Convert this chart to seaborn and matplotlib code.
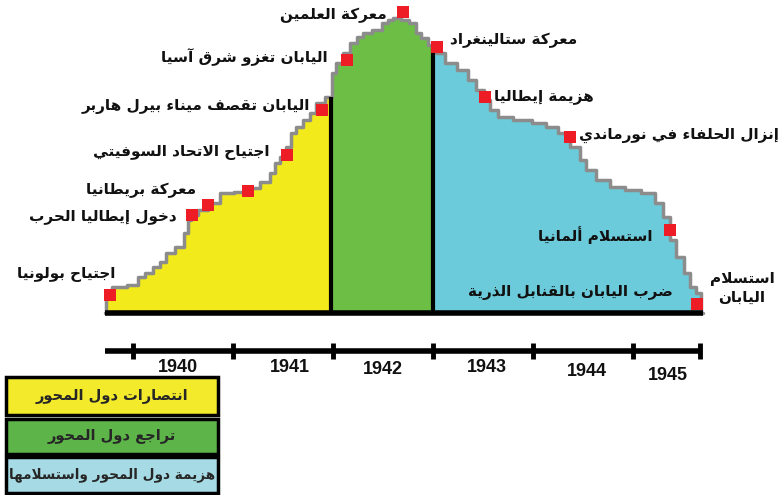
import numpy as np
import pandas as pd
import matplotlib.pyplot as plt
import seaborn as sns
from matplotlib.patches import Rectangle

# --- data: axis strength index over time (year as decimal) ---
years = [1939.72, 1939.74, 1939.84, 1940.04, 1940.07, 1940.17, 1940.24, 1940.30, 1940.37,
         1940.47, 1940.54, 1940.57, 1940.60, 1940.70, 1940.80, 1940.94, 1941.07, 1941.20,
         1941.34, 1941.40, 1941.44, 1941.50, 1941.57, 1941.60, 1941.67, 1941.74, 1941.80,
         1941.87, 1941.98, 1941.99, 1942.00, 1942.07, 1942.14, 1942.20, 1942.27, 1942.34,
         1942.44, 1942.54, 1942.57, 1942.64, 1942.72, 1942.79, 1942.87, 1942.90, 1943.00,
         1943.07, 1943.17, 1943.30, 1943.40, 1943.47, 1943.54, 1943.60, 1943.70, 1943.90,
         1944.07, 1944.20, 1944.30, 1944.44, 1944.50, 1944.57, 1944.70, 1944.84, 1945.00,
         1945.17, 1945.27, 1945.34, 1945.40, 1945.47, 1945.54, 1945.60, 1945.67, 1945.70]
strength = [0, 15, 26, 28, 36, 40, 46, 51, 60,
            66, 80, 93, 98, 103, 110, 120, 121, 125,
            131, 140, 150, 156, 166, 180, 186, 193, 200,
            210, 216, 226, 240, 250, 260, 270, 276, 280,
            283, 290, 293, 295, 293, 290, 280, 275, 268,
            260, 250, 243, 233, 223, 213, 203, 196, 193,
            190, 186, 180, 166, 153, 143, 133, 126, 123,
            120, 110, 96, 73, 56, 40, 26, 20, 0]

phase_bounds = [1939.72, 1941.98, 1943.00, 1945.70]
phase_colors = ["#F2EA1A", "#6CBE45", "#6BCBDA"]
phase_names = ["انتصارات دول المحور", "تراجع دول المحور", "هزيمة دول المحور واستسلامها"]
legend_colors = ["#F2EA2A", "#5DB54A", "#A6DAE4"]

event_x = [1939.77, 1940.59, 1940.75, 1941.15, 1941.54, 1941.89, 1942.14, 1942.70,
           1943.04, 1943.52, 1944.37, 1945.37, 1945.64]
event_y = [18, 98, 108, 122, 158, 203, 253, 301, 266, 216, 176, 83, 9]

events = ["اجتياح بولونيا", "دخول إيطاليا الحرب", "معركة بريطانيا", "اجتياح الاتحاد السوفيتي",
          "اليابان تقصف ميناء بيرل هاربر", "اليابان تغزو شرق آسيا", "معركة العلمين",
          "معركة ستالينغراد", "هزيمة إيطاليا", "إنزال الحلفاء في نورماندي",
          "استسلام ألمانيا", "ضرب اليابان بالقنابل الذرية", "استسلام\nاليابان"]
# label anchor (x, y, ha)
event_label_pos = [(1939.82, 38, "right"), (1940.44, 96, "right"), (1940.63, 123, "right"),
                   (1941.37, 161, "right"), (1941.77, 206, "right"), (1941.95, 256, "right"),
                   (1942.54, 298, "right"), (1944.44, 273, "right"), (1943.61, 216, "left"),
                   (1944.46, 178, "left"), (1945.20, 78, "right"), (1945.40, 20, "right"),
                   (1946.09, 25, "center")]

tick_years = [1940, 1941, 1942, 1943, 1944, 1945]
year_labels = ["1940", "1941", "1942", "1943", "1944", "1945"]
year_label_pos = [(1940.45, -54), (1941.57, -55), (1942.50, -57),
                  (1943.54, -55), (1944.54, -59), (1945.35, -62)]
timeline_end = 1945.67

# --- minimal Arabic shaping (matplotlib has no complex text layout) ---
FORMS = {
    "ء": (0xFE80, None, None, None), "آ": (0xFE81, 0xFE82, None, None),
    "أ": (0xFE83, 0xFE84, None, None), "ؤ": (0xFE85, 0xFE86, None, None),
    "إ": (0xFE87, 0xFE88, None, None), "ئ": (0xFE89, 0xFE8A, 0xFE8B, 0xFE8C),
    "ا": (0xFE8D, 0xFE8E, None, None), "ب": (0xFE8F, 0xFE90, 0xFE91, 0xFE92),
    "ة": (0xFE93, 0xFE94, None, None), "ت": (0xFE95, 0xFE96, 0xFE97, 0xFE98),
    "ث": (0xFE99, 0xFE9A, 0xFE9B, 0xFE9C), "ج": (0xFE9D, 0xFE9E, 0xFE9F, 0xFEA0),
    "ح": (0xFEA1, 0xFEA2, 0xFEA3, 0xFEA4), "خ": (0xFEA5, 0xFEA6, 0xFEA7, 0xFEA8),
    "د": (0xFEA9, 0xFEAA, None, None), "ذ": (0xFEAB, 0xFEAC, None, None),
    "ر": (0xFEAD, 0xFEAE, None, None), "ز": (0xFEAF, 0xFEB0, None, None),
    "س": (0xFEB1, 0xFEB2, 0xFEB3, 0xFEB4), "ش": (0xFEB5, 0xFEB6, 0xFEB7, 0xFEB8),
    "ص": (0xFEB9, 0xFEBA, 0xFEBB, 0xFEBC), "ض": (0xFEBD, 0xFEBE, 0xFEBF, 0xFEC0),
    "ط": (0xFEC1, 0xFEC2, 0xFEC3, 0xFEC4), "ظ": (0xFEC5, 0xFEC6, 0xFEC7, 0xFEC8),
    "ع": (0xFEC9, 0xFECA, 0xFECB, 0xFECC), "غ": (0xFECD, 0xFECE, 0xFECF, 0xFED0),
    "ف": (0xFED1, 0xFED2, 0xFED3, 0xFED4), "ق": (0xFED5, 0xFED6, 0xFED7, 0xFED8),
    "ك": (0xFED9, 0xFEDA, 0xFEDB, 0xFEDC), "ل": (0xFEDD, 0xFEDE, 0xFEDF, 0xFEE0),
    "م": (0xFEE1, 0xFEE2, 0xFEE3, 0xFEE4), "ن": (0xFEE5, 0xFEE6, 0xFEE7, 0xFEE8),
    "ه": (0xFEE9, 0xFEEA, 0xFEEB, 0xFEEC), "و": (0xFEED, 0xFEEE, None, None),
    "ى": (0xFEEF, 0xFEF0, None, None), "ي": (0xFEF1, 0xFEF2, 0xFEF3, 0xFEF4),
}
LAM_ALEF = {"آ": (0xFEF5, 0xFEF6), "أ": (0xFEF7, 0xFEF8),
            "إ": (0xFEF9, 0xFEFA), "ا": (0xFEFB, 0xFEFC)}


def shape_line(text):
    out = []
    i = 0
    while i < len(text):
        c = text[i]
        prev = text[i - 1] if i > 0 else ""
        nxt = text[i + 1] if i + 1 < len(text) else ""
        left = prev in FORMS and FORMS[prev][2] is not None
        if c == "ل" and nxt in LAM_ALEF:
            iso, fin = LAM_ALEF[nxt]
            out.append(chr(fin if left else iso))
            i += 2
            continue
        if c not in FORMS:
            out.append(c)
            i += 1
            continue
        iso, fin, ini, med = FORMS[c]
        left = left and fin is not None
        right = ini is not None and nxt in FORMS and FORMS[nxt][1] is not None
        if left and right:
            f = med
        elif left:
            f = fin
        elif right:
            f = ini
        else:
            f = iso
        out.append(chr(f))
        i += 1
    return "".join(reversed(out))


def ar(text):
    return "\n".join(shape_line(t) for t in text.split("\n"))


sns.set_style("white")
plt.rcParams["font.family"] = ["DejaVu Sans"]

df = pd.DataFrame({"year": years, "strength": strength})
ev = pd.DataFrame({"year": event_x, "strength": event_y})

fig = plt.figure(figsize=(7.79, 4.95), dpi=100)
ax = fig.add_axes([0, 0, 1, 1])
ax.set_xlim(1938.67, 1946.46)
ax.set_ylim(-182, 313)
ax.axis("off")

# phase areas, stepped edge like the original drawing
for (start, end), color in zip(zip(phase_bounds[:-1], phase_bounds[1:]), phase_colors):
    seg = df[(df["year"] >= start) & (df["year"] <= end)]
    ax.fill_between(seg["year"], 0, seg["strength"], step="mid", color=color, lw=0, zorder=1)

sns.lineplot(data=df, x="year", y="strength", color="#8C8C8C", lw=2.5,
             drawstyle="steps-mid", estimator=None, sort=False, ax=ax, zorder=2)

for b in phase_bounds[1:-1]:
    top = df.loc[df["year"] == b, "strength"].iloc[0]
    ax.vlines(b, 0, top, color="black", lw=3, zorder=3)

ax.hlines(0, phase_bounds[0], phase_bounds[-1], color="black", lw=4, zorder=4)

sns.scatterplot(data=ev, x="year", y="strength", marker="s", s=80, color="#EE1C24",
                edgecolor="none", ax=ax, zorder=5)

for txt, (x, y, ha) in zip(events, event_label_pos):
    ax.text(x, y, ar(txt), ha=ha, va="center", fontsize=11, fontweight="bold",
            color="#111111", linespacing=1.3, zorder=6)

# timeline
ax.hlines(-38, phase_bounds[0], timeline_end, color="black", lw=4)
ax.vlines(tick_years + [timeline_end], -46, -30, color="black", lw=3.5)
for lab, (x, y) in zip(year_labels, year_label_pos):
    ax.text(x, y, lab, ha="center", va="center", fontsize=13, fontweight="bold",
            family="Liberation Sans", color="#111111")

# legend boxes
box_y = [0.1616, 0.0828, 0.004]
box_h = [0.0768, 0.0707, 0.0727]
box_fs = [10.5, 10.5, 9.8]
for name, color, y0, h, fs in zip(phase_names, legend_colors, box_y, box_h, box_fs):
    ax.add_patch(Rectangle((0.0077, y0), 0.272, h, transform=ax.transAxes,
                           facecolor=color, edgecolor="black", lw=2.5, zorder=6))
    ax.text(0.0077 + 0.136, y0 + h / 2, ar(name), transform=ax.transAxes,
            ha="center", va="center", fontsize=fs, fontweight="bold", zorder=7)

fig.savefig("out.png", dpi=100)
